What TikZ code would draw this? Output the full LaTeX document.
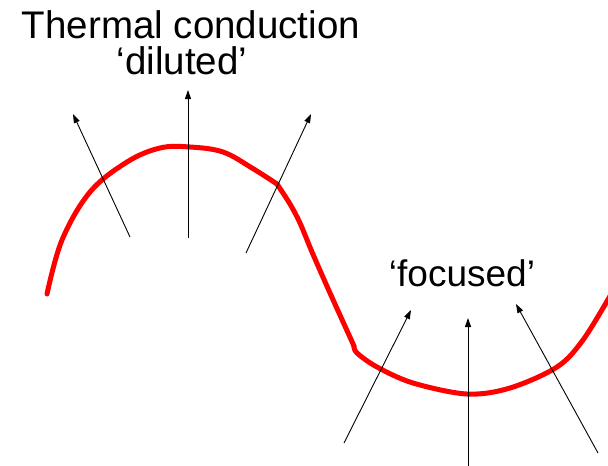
\documentclass[tikz,border=0pt]{standalone}
\usepackage{fontspec}
\setmainfont{Liberation Sans}
\usetikzlibrary{arrows.meta}
\begin{document}
\begin{tikzpicture}[x=1pt,y=-1pt,
  lbl/.style={font=\fontsize{37}{40}\selectfont, inner sep=0pt, anchor=base},
  biglbl/.style={lbl, font=\fontsize{38.5}{42}\selectfont},
  flux/.style={line width=0.9pt, -{Triangle[length=9pt,width=6pt]}},
  curve/.style={draw=red, line width=5pt, line cap=round, line join=round}]
\useasboundingbox (0,0) rectangle (608,466);
% texts
\node[biglbl, text depth=0pt] (title) at (191,38) {Thermal conduction};
\node[biglbl, text height=27pt] (dil) at (182,74) {‘diluted’};
\node[lbl] (foc) at (462,286) {‘focused’};
% red front
\draw[curve] plot[smooth, tension=0.6] coordinates {
 (47,294) (62,240) (90,192) (127,162) (160,148) (190,147)
 (223,152) (252,168) (277,184)};
\draw[curve] plot[smooth, tension=0.5] coordinates {
 (277,184) (290,204) (300,223) (312,252) (330,293) (354,346)};
\draw[curve] plot[smooth, tension=0.55] coordinates {
 (354,346) (357,353) (377,367) (413,383) (467,394) (510,388) (557,367) (583,340) (610,296)};
% diluted arrows
\coordinate (d1s) at (130,237); \coordinate (d1e) at (73,114);
\coordinate (d2s) at (188,238); \coordinate (d2e) at (188,90);
\coordinate (d3s) at (246,253); \coordinate (d3e) at (311,114);
\draw[flux] (d1s) -- (d1e);
\draw[flux] (d2s) -- (d2e);
\draw[flux] (d3s) -- (d3e);
% focused arrows
\coordinate (f1s) at (344,443); \coordinate (f1e) at (411,310);
\coordinate (f2s) at (468,470); \coordinate (f2e) at (468,318);
\coordinate (f3s) at (598,453); \coordinate (f3e) at (516,304);
\draw[flux] (f1s) -- (f1e);
\draw[flux] (f2s) -- (f2e);
\draw[flux] (f3s) -- (f3e);
\end{tikzpicture}
\end{document}
